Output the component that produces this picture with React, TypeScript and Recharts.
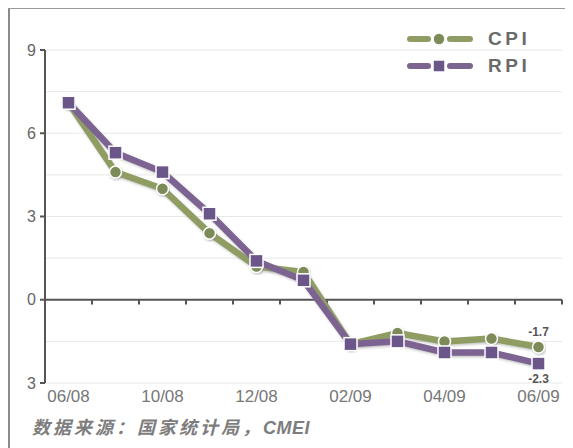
import React from 'react';
import { LineChart, Line, XAxis, YAxis, CartesianGrid, ReferenceLine, LabelList } from 'recharts';

const categories = ['06/08', '09/08', '10/08', '11/08', '12/08', '01/09', '02/09', '03/09', '04/09', '05/09', '06/09'];
const cpiValues = [7.1, 4.6, 4.0, 2.4, 1.2, 1.0, -1.6, -1.2, -1.5, -1.4, -1.7];
const rpiValues = [7.1, 5.3, 4.6, 3.1, 1.4, 0.7, -1.6, -1.5, -1.9, -1.9, -2.3];
const xTickIndex = [0, 2, 4, 6, 8, 10];
const yTicks = [-3, 0, 3, 6, 9];
const yTickLabels = ['3', '0', '3', '6', '9'];
const gridValues = [-3, -1.5, 0, 1.5, 3, 4.5, 6, 7.5, 9];

const CPI_LINE = '#8f9d64';
const CPI_DOT = '#7c8b58';
const RPI_LINE = '#7c6491';
const RPI_DOT = '#6a5688';

const data = categories.map((label, i) => ({ i, label, cpi: cpiValues[i], rpi: rpiValues[i] }));
const midTicks = categories.map((_, i) => i + 0.5);

const SquareDot = (props: any) => {
  const { cx, cy } = props;
  if (cx == null || cy == null) return null;
  return <rect x={cx - 6.5} y={cy - 6.5} width={13} height={13} fill={RPI_DOT} stroke="#fff" strokeWidth={1.5} />;
};

const lastLabel = (above: boolean) => (props: any) => {
  const { x, y, value, index } = props;
  if (index !== data.length - 1) return null;
  return (
    <text x={x} y={above ? y - 11 : y + 19} textAnchor="middle" fontSize={12} fontWeight="bold" fill="#555" fontFamily="Arial, Liberation Sans, sans-serif">
      {value}
    </text>
  );
};

const LegendRow = ({ color, dot, label, square }: { color: string; dot: string; label: string; square?: boolean }) => (
  <div style={{ display: 'flex', alignItems: 'center', height: 27 }}>
    <svg width={70} height={16}>
      <line x1={4} y1={8} x2={22} y2={8} stroke={color} strokeWidth={6} strokeLinecap="round" />
      <line x1={44} y1={8} x2={64} y2={8} stroke={color} strokeWidth={6} strokeLinecap="round" />
      {square ? (
        <rect x={27} y={2} width={12} height={12} fill={dot} stroke="#fff" strokeWidth={1.5} />
      ) : (
        <circle cx={33} cy={8} r={6} fill={dot} stroke="#fff" strokeWidth={1.5} />
      )}
    </svg>
    <span style={{ marginLeft: 12, fontSize: 19, fontWeight: 'bold', letterSpacing: 3.5, color: '#6a6a6a', fontFamily: 'Arial, Liberation Sans, sans-serif' }}>
      {label}
    </span>
  </div>
);

export default function App() {
  return (
    <div
      style={{
        position: 'relative',
        width: 562,
        height: 440,
        borderLeft: '2px solid #8a8a8a',
        borderTop: '1px solid #9a9a9a',
        borderRight: '1px solid #cfcfcf',
        background: '#fff',
        fontFamily: 'Arial, Liberation Sans, sans-serif',
      }}
    >
      <LineChart width={560} height={400} data={data} margin={{ top: 41, right: 8, bottom: 0, left: 0 }}>
        <defs>
          <filter id="shadow" x="-10%" y="-10%" width="120%" height="130%">
            <feDropShadow dx={1} dy={1.5} stdDeviation={1.2} floodColor="#888" floodOpacity={0.5} />
          </filter>
        </defs>
        <CartesianGrid horizontalValues={gridValues} vertical={false} stroke="#e8e8e8" strokeWidth={1} />
        <XAxis
          type="number"
          dataKey="i"
          domain={[-0.5, 10.5]}
          ticks={xTickIndex}
          interval={0}
          tickFormatter={(v: number) => categories[v]}
          axisLine={false}
          tickLine={false}
          tickSize={4}
          tickMargin={3}
          height={26}
          tick={{ fontSize: 17, fill: '#777' }}
        />
        <YAxis
          domain={[-3, 9]}
          ticks={yTicks}
          interval={0}
          tickFormatter={(v: number) => yTickLabels[yTicks.indexOf(v)]}
          width={35}
          axisLine={{ stroke: '#555', strokeWidth: 2 }}
          tickLine={{ stroke: '#555', strokeWidth: 2 }}
          tickSize={5}
          tickMargin={4}
          tick={{ fontSize: 16, fill: '#666' }}
        />
        <ReferenceLine y={0} stroke="#555" strokeWidth={2} />
        {midTicks.map((t) => (
          <ReferenceLine key={t} segment={[{ x: t, y: 0 }, { x: t, y: -0.17 }]} stroke="#555" strokeWidth={2} />
        ))}
        <Line
          dataKey="cpi"
          stroke={CPI_LINE}
          strokeWidth={6.5}
          filter="url(#shadow)"
          dot={{ r: 6, fill: CPI_DOT, stroke: '#fff', strokeWidth: 1.5 }}
          activeDot={false}
          isAnimationActive={false}
        >
          <LabelList dataKey="cpi" content={lastLabel(true)} />
        </Line>
        <Line
          dataKey="rpi"
          stroke={RPI_LINE}
          strokeWidth={6.5}
          filter="url(#shadow)"
          dot={<SquareDot />}
          activeDot={false}
          isAnimationActive={false}
        >
          <LabelList dataKey="rpi" content={lastLabel(false)} />
        </Line>
      </LineChart>
      <div style={{ position: 'absolute', top: 16, left: 396 }}>
        <LegendRow color={CPI_LINE} dot={CPI_DOT} label="CPI" />
        <LegendRow color={RPI_LINE} dot={RPI_DOT} label="RPI" square />
      </div>
      <div
        style={{
          position: 'absolute',
          left: 22,
          top: 404,
          fontSize: 18,
          fontStyle: 'italic',
          fontWeight: 'bold',
          letterSpacing: 3,
          color: '#7d7d7d',
          fontFamily: '"Noto Sans CJK SC", sans-serif',
        }}
      >
        数据来源：国家统计局，
        <span style={{ fontFamily: 'Arial, Liberation Sans, sans-serif', fontWeight: 'bold', letterSpacing: 0.5 }}>CMEI</span>
      </div>
    </div>
  );
}
